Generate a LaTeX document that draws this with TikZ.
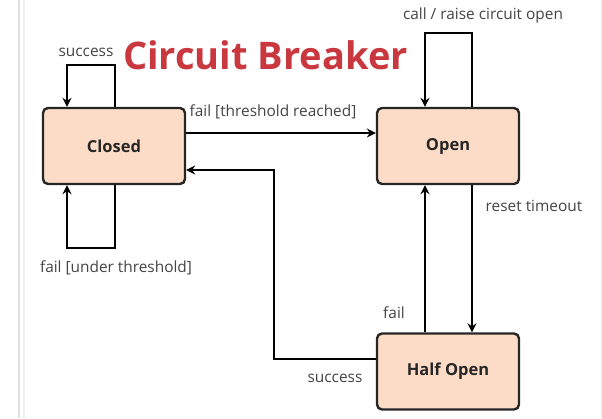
\documentclass[tikz,border=0pt]{standalone}
\usepackage{fontspec}
\setmainfont{Open Sans}
\usetikzlibrary{arrows.meta}
\definecolor{statefill}{HTML}{FCDCC6}
\definecolor{titlered}{HTML}{C9373F}
\definecolor{labelgrey}{HTML}{444444}
\begin{document}
\begin{tikzpicture}[x=1pt, y=-1pt,
    state/.style={draw=black!85, fill=statefill, line width=2.4pt, rounded corners=5pt,
        minimum width=142pt, minimum height=76pt, text=black!85,
        font=\bfseries\fontsize{16.5}{19}\selectfont},
    lbl/.style={font=\fontsize{15.4}{18}\selectfont, text=labelgrey, inner sep=0pt},
    >={Stealth[length=9pt, width=9pt, inset=3pt]}, line width=1.8pt]
    \useasboundingbox (0,0) rectangle (602,418);
    % page edges
    \draw[black!12, line width=1.5pt] (19,0) -- (19,418);
    \draw[black!6, line width=1.5pt] (24,0) -- (24,418);
    \draw[black!5, line width=1pt] (601,0) -- (601,418);

    \node[state] (closed) at (114, 146)   {Closed};
    \node[state] (open)   at (448, 146)   {Open};
    \node[state] (half)   at (448, 371.5) {Half Open};

    \node[font=\bfseries\fontsize{38}{44}\selectfont, text=titlered, inner sep=0pt]
        (title) at (265.5, 55) {Circuit Breaker};

    % loop corners
    \coordinate (c1) at (115, 65);
    \coordinate (c2) at (67, 65);
    \coordinate (c3) at (115, 248);
    \coordinate (c4) at (67, 248);
    \coordinate (o1) at (472, 33);
    \coordinate (o2) at (425, 33);
    \coordinate (s1) at (274, 170);

    \draw[->] (closed.north -| c1) -- (c1) -- (c2) -- (closed.north -| c2);
    \draw[->] (closed.south -| c3) -- (c3) -- (c4) -- (closed.south -| c4);
    \draw[->] (open.north -| o1) -- (o1) -- (o2) -- (open.north -| o2);
    \draw[->] ([yshift=13pt]closed.east) -- ([yshift=13pt]open.west);
    \draw[->] ([yshift=12.5pt]half.west) -| (s1) -- (closed.east |- s1);
    \draw[->] (open.south -| o1) -- (half.north -| o1);
    \draw[->] (half.north -| o2) -- (open.south -| o2);

    \node[lbl] (l1) at (86, 52)   {success};
    \node[lbl] (l2) at (273, 112) {fail [threshold reached]};
    \node[lbl] (l3) at (483, 15)  {call / raise circuit open};
    \node[lbl] (l4) at (534, 206) {reset timeout};
    \node[lbl] (l5) at (394, 313) {fail};
    \node[lbl] (l6) at (335, 378) {success};
    \node[lbl] (l7) at (116, 268) {fail [under threshold]};
\end{tikzpicture}
\end{document}
